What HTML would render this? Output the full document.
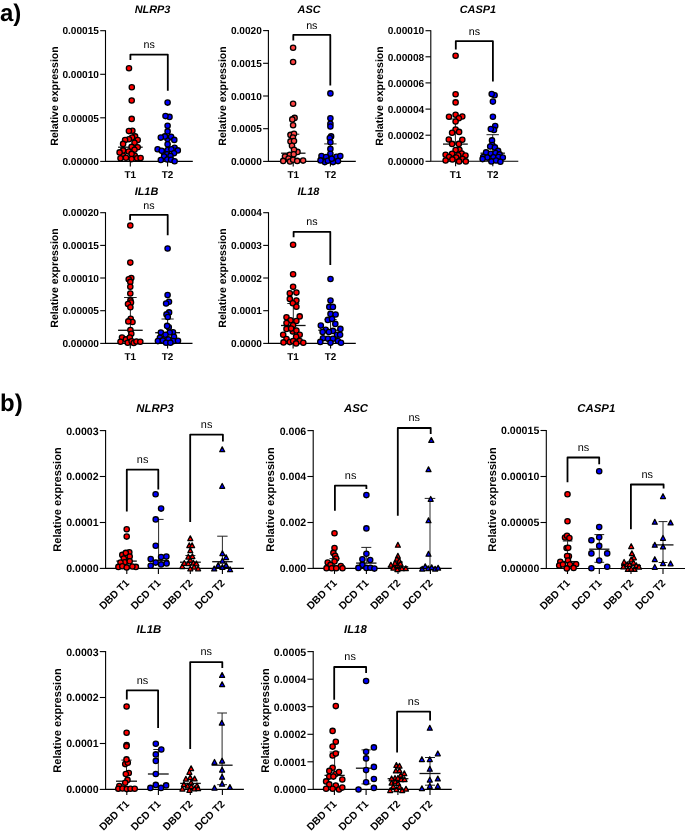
<!DOCTYPE html>
<html><head><meta charset="utf-8"><style>
html,body{margin:0;padding:0;background:#fff;width:685px;height:834px;overflow:hidden}
svg{display:block;will-change:transform}
text{font-family:"Liberation Sans",sans-serif;fill:#000;text-rendering:geometricPrecision}
.ax{stroke:#000;stroke-width:1.1;fill:none}
.br{stroke:#000;stroke-width:1.8;fill:none;stroke-linejoin:round}
.tka{font-size:10.1px;font-weight:bold;text-anchor:end}
.tkb{font-size:10.6px;font-weight:bold;text-anchor:end}
.yla{font-size:10.6px;font-weight:bold;text-anchor:middle}
.ylb{font-size:11.15px;font-weight:bold;text-anchor:middle}
.tia{font-size:10.9px;font-weight:bold;font-style:italic;text-anchor:middle}
.tib{font-size:11.4px;font-weight:bold;font-style:italic;text-anchor:middle}
.nsa{font-size:10.7px;text-anchor:middle}
.nsb{font-size:10.9px;text-anchor:middle}
.xl{font-size:9.9px;font-weight:bold;text-anchor:middle}
.xr{font-size:10.35px;font-weight:bold;text-anchor:end}
.big{font-size:24px;font-weight:bold}
.r{fill:#f00;stroke:#000;stroke-width:1.3}
.b{fill:#00f;stroke:#000;stroke-width:1.3}
.r2{fill:#f44;stroke:#000;stroke-width:1.3}
.ev{stroke:#111;stroke-width:0.9;fill:none}
.t{stroke-linejoin:round;stroke-width:1.25}
.ec{stroke:#222;stroke-width:1;fill:none}
.em{stroke:#111;stroke-width:1.3;fill:none}
</style></head><body>
<svg width="685" height="834" viewBox="0 0 685 834">
<text x="0" y="21" class="big">a)</text>
<text x="0" y="411" class="big">b)</text>
<path d="M105.5 30.2V161.4M104.95 161.4H192.8" class="ax"/>
<path d="M100.2 161.4H105.5" class="ax"/>
<text x="98.9" y="165.1" class="tka">0.00000</text>
<path d="M100.2 117.8H105.5" class="ax"/>
<text x="98.9" y="121.5" class="tka">0.00005</text>
<path d="M100.2 74.3H105.5" class="ax"/>
<text x="98.9" y="78.0" class="tka">0.00010</text>
<path d="M100.2 30.7H105.5" class="ax"/>
<text x="98.9" y="34.4" class="tka">0.00015</text>
<path d="M130.3 161.4V166.4" class="ax"/>
<path d="M167.6 161.4V166.4" class="ax"/>
<text transform="translate(58.0,96.0) rotate(-90)" class="yla">Relative expression</text>
<text x="152.5" y="13.1" class="tia">NLRP3</text>
<text x="130.3" y="177.6" class="xl">T1</text>
<text x="167.6" y="177.6" class="xl">T2</text>
<path d="M130.4 60.1V54.6H167.8V90.8" class="br"/>
<text x="149.1" y="48.2" class="nsa">ns</text>
<path d="M118.1 147.2H142.7" class="em"/>
<path d="M155.3 150H179.9" class="em"/>
<circle cx="129" cy="68.3" r="2.65" class="r"/>
<circle cx="131.8" cy="87.3" r="2.65" class="r"/>
<circle cx="131.7" cy="100.5" r="2.65" class="r"/>
<circle cx="131.7" cy="118.9" r="2.65" class="r"/>
<circle cx="132.4" cy="130.8" r="2.65" class="r"/>
<circle cx="128.9" cy="131.1" r="2.65" class="r"/>
<circle cx="135.1" cy="136.4" r="2.65" class="r"/>
<circle cx="132.1" cy="137.5" r="2.65" class="r"/>
<circle cx="128.9" cy="139.3" r="2.65" class="r"/>
<circle cx="125.1" cy="140.1" r="2.65" class="r"/>
<circle cx="137.7" cy="140.1" r="2.65" class="r"/>
<circle cx="134.5" cy="142.8" r="2.65" class="r"/>
<circle cx="123.1" cy="143.9" r="2.65" class="r"/>
<circle cx="131.6" cy="146.9" r="2.65" class="r"/>
<circle cx="137.7" cy="147.2" r="2.65" class="r"/>
<circle cx="123" cy="155.5" r="2.65" class="r"/>
<circle cx="134.8" cy="155.8" r="2.65" class="r"/>
<circle cx="123.1" cy="150.4" r="2.65" class="r"/>
<circle cx="134.5" cy="149.8" r="2.65" class="r"/>
<circle cx="128.6" cy="151.5" r="2.65" class="r"/>
<circle cx="119.6" cy="152.4" r="2.65" class="r"/>
<circle cx="131.6" cy="153.9" r="2.65" class="r"/>
<circle cx="120.5" cy="158.2" r="2.65" class="r"/>
<circle cx="126" cy="157.7" r="2.65" class="r"/>
<circle cx="131.6" cy="159.1" r="2.65" class="r"/>
<circle cx="137.1" cy="158.2" r="2.65" class="r"/>
<circle cx="140.6" cy="158" r="2.65" class="r"/>
<circle cx="167.6" cy="102.6" r="2.65" class="b"/>
<circle cx="169.5" cy="116.9" r="2.65" class="b"/>
<circle cx="165.5" cy="116.1" r="2.65" class="b"/>
<circle cx="167.6" cy="125.7" r="2.65" class="b"/>
<circle cx="167.6" cy="131.4" r="2.65" class="b"/>
<circle cx="167.6" cy="139" r="2.65" class="b"/>
<circle cx="164.9" cy="136.4" r="2.65" class="b"/>
<circle cx="171.1" cy="136.7" r="2.65" class="b"/>
<circle cx="160.8" cy="137.6" r="2.65" class="b"/>
<circle cx="174.3" cy="139.9" r="2.65" class="b"/>
<circle cx="167.6" cy="144.3" r="2.65" class="b"/>
<circle cx="163.8" cy="152.4" r="2.65" class="b"/>
<circle cx="174.6" cy="147.8" r="2.65" class="b"/>
<circle cx="157.6" cy="149.2" r="2.65" class="b"/>
<circle cx="161.7" cy="150.7" r="2.65" class="b"/>
<circle cx="167.6" cy="150.1" r="2.65" class="b"/>
<circle cx="171.4" cy="149.2" r="2.65" class="b"/>
<circle cx="177.8" cy="150.4" r="2.65" class="b"/>
<circle cx="174" cy="153.3" r="2.65" class="b"/>
<circle cx="167" cy="154.2" r="2.65" class="b"/>
<circle cx="164.1" cy="156.5" r="2.65" class="b"/>
<circle cx="170.5" cy="155.9" r="2.65" class="b"/>
<circle cx="160.8" cy="160" r="2.65" class="b"/>
<circle cx="167.3" cy="159.5" r="2.65" class="b"/>
<circle cx="171.1" cy="159.7" r="2.65" class="b"/>
<circle cx="174.6" cy="161.2" r="2.65" class="b"/>
<path d="M268.4 30.1V161.4M267.85 161.4H355.8" class="ax"/>
<path d="M263.1 161.4H268.4" class="ax"/>
<text x="261.8" y="165.1" class="tka">0.0000</text>
<path d="M263.1 128.7H268.4" class="ax"/>
<text x="261.8" y="132.4" class="tka">0.0005</text>
<path d="M263.1 96.0H268.4" class="ax"/>
<text x="261.8" y="99.7" class="tka">0.0010</text>
<path d="M263.1 63.3H268.4" class="ax"/>
<text x="261.8" y="67.0" class="tka">0.0015</text>
<path d="M263.1 30.6H268.4" class="ax"/>
<text x="261.8" y="34.3" class="tka">0.0020</text>
<path d="M293.2 161.4V166.4" class="ax"/>
<path d="M330.4 161.4V166.4" class="ax"/>
<text transform="translate(226.3,96.0) rotate(-90)" class="yla">Relative expression</text>
<text x="309.1" y="13.1" class="tia">ASC</text>
<text x="293.2" y="177.6" class="xl">T1</text>
<text x="330.4" y="177.6" class="xl">T2</text>
<path d="M293.3 40.5V34.9H330.3V85.6" class="br"/>
<text x="311.8" y="28.5" class="nsa">ns</text>
<path d="M293.3 134.2V153.2" class="ev"/>
<path d="M287.3 134.2H299.3" class="ec"/>
<path d="M281.1 153.2H305.5" class="em"/>
<path d="M330.4 143.9V158" class="ev"/>
<path d="M324.2 143.9H336.6" class="ec"/>
<path d="M318.2 158H342.6" class="em"/>
<circle cx="293.1" cy="47.7" r="2.65" class="r2"/>
<circle cx="293.1" cy="62" r="2.65" class="r2"/>
<circle cx="293.1" cy="103.8" r="2.65" class="r2"/>
<circle cx="294.6" cy="117.9" r="2.65" class="r2"/>
<circle cx="292.3" cy="119.4" r="2.65" class="r2"/>
<circle cx="293.1" cy="125.3" r="2.65" class="r2"/>
<circle cx="290.5" cy="134.9" r="2.65" class="r2"/>
<circle cx="294" cy="133.8" r="2.65" class="r2"/>
<circle cx="292.9" cy="137.6" r="2.65" class="r2"/>
<circle cx="290.5" cy="141.4" r="2.65" class="r2"/>
<circle cx="294" cy="141.1" r="2.65" class="r2"/>
<circle cx="292" cy="145.7" r="2.65" class="r2"/>
<circle cx="297.5" cy="151.9" r="2.65" class="r2"/>
<circle cx="294" cy="149.8" r="2.65" class="r2"/>
<circle cx="289.9" cy="154.8" r="2.65" class="r2"/>
<circle cx="293.7" cy="154.2" r="2.65" class="r2"/>
<circle cx="285" cy="156.5" r="2.65" class="r2"/>
<circle cx="288.5" cy="158.6" r="2.65" class="r2"/>
<circle cx="290" cy="161.5" r="2.65" class="r2"/>
<circle cx="283.2" cy="160.9" r="2.65" class="r2"/>
<circle cx="293.1" cy="159.7" r="2.65" class="r2"/>
<circle cx="297.2" cy="160.9" r="2.65" class="r2"/>
<circle cx="303.1" cy="160.6" r="2.65" class="r2"/>
<circle cx="330.4" cy="93.4" r="2.65" class="b"/>
<circle cx="330.4" cy="118.2" r="2.65" class="b"/>
<circle cx="330.4" cy="123.8" r="2.65" class="b"/>
<circle cx="330.4" cy="126.5" r="2.65" class="b"/>
<circle cx="331.1" cy="136.4" r="2.65" class="b"/>
<circle cx="329.8" cy="138" r="2.65" class="b"/>
<circle cx="330.4" cy="142.3" r="2.65" class="b"/>
<circle cx="330.4" cy="148.9" r="2.65" class="b"/>
<circle cx="330.4" cy="153.8" r="2.65" class="b"/>
<circle cx="321.5" cy="156.1" r="2.65" class="b"/>
<circle cx="326.1" cy="157.1" r="2.65" class="b"/>
<circle cx="336.4" cy="156.8" r="2.65" class="b"/>
<circle cx="340.3" cy="156.1" r="2.65" class="b"/>
<circle cx="324.8" cy="162.1" r="2.65" class="b"/>
<circle cx="327.8" cy="160.7" r="2.65" class="b"/>
<circle cx="333.1" cy="162.1" r="2.65" class="b"/>
<circle cx="320.5" cy="160.4" r="2.65" class="b"/>
<circle cx="331.7" cy="158.8" r="2.65" class="b"/>
<circle cx="338" cy="161.1" r="2.65" class="b"/>
<path d="M430.8 30.2V161.3M430.25 161.3H518.3" class="ax"/>
<path d="M425.5 161.3H430.8" class="ax"/>
<text x="424.2" y="165.0" class="tka">0.00000</text>
<path d="M425.5 135.2H430.8" class="ax"/>
<text x="424.2" y="138.9" class="tka">0.00002</text>
<path d="M425.5 109.1H430.8" class="ax"/>
<text x="424.2" y="112.8" class="tka">0.00004</text>
<path d="M425.5 82.9H430.8" class="ax"/>
<text x="424.2" y="86.6" class="tka">0.00006</text>
<path d="M425.5 56.8H430.8" class="ax"/>
<text x="424.2" y="60.5" class="tka">0.00008</text>
<path d="M425.5 30.7H430.8" class="ax"/>
<text x="424.2" y="34.4" class="tka">0.00010</text>
<path d="M455.6 161.3V166.3" class="ax"/>
<path d="M492.8 161.3V166.3" class="ax"/>
<text transform="translate(383.3,96.0) rotate(-90)" class="yla">Relative expression</text>
<text x="477.9" y="13.1" class="tia">CASP1</text>
<text x="455.6" y="177.5" class="xl">T1</text>
<text x="492.8" y="177.5" class="xl">T2</text>
<path d="M455.8 49.6V41.2H492.9V81.4" class="br"/>
<text x="474.4" y="34.8" class="nsa">ns</text>
<path d="M455.4 119.0V144.1" class="ev"/>
<path d="M449.4 119.0H461.4" class="ec"/>
<path d="M443.0 144.1H467.8" class="em"/>
<path d="M492.7 134.7V153.2" class="ev"/>
<path d="M486.5 134.7H498.9" class="ec"/>
<path d="M480.5 153.2H504.9" class="em"/>
<circle cx="455.6" cy="55.8" r="2.65" class="r"/>
<circle cx="455.6" cy="94.3" r="2.65" class="r"/>
<circle cx="455.6" cy="102.4" r="2.65" class="r"/>
<circle cx="449" cy="116.8" r="2.65" class="r"/>
<circle cx="455.6" cy="114.8" r="2.65" class="r"/>
<circle cx="462.3" cy="116.5" r="2.65" class="r"/>
<circle cx="458.8" cy="118.3" r="2.65" class="r"/>
<circle cx="455.6" cy="121.5" r="2.65" class="r"/>
<circle cx="455.6" cy="129.6" r="2.65" class="r"/>
<circle cx="459.1" cy="131.9" r="2.65" class="r"/>
<circle cx="452.1" cy="132.8" r="2.65" class="r"/>
<circle cx="448.8" cy="139.5" r="2.65" class="r"/>
<circle cx="462.3" cy="139.8" r="2.65" class="r"/>
<circle cx="452.1" cy="143.9" r="2.65" class="r"/>
<circle cx="458.8" cy="143.9" r="2.65" class="r"/>
<circle cx="459.4" cy="149.7" r="2.65" class="r"/>
<circle cx="455.6" cy="150" r="2.65" class="r"/>
<circle cx="445.6" cy="154.7" r="2.65" class="r"/>
<circle cx="452.1" cy="153.8" r="2.65" class="r"/>
<circle cx="461.7" cy="153.5" r="2.65" class="r"/>
<circle cx="465.5" cy="155.6" r="2.65" class="r"/>
<circle cx="458.2" cy="155.3" r="2.65" class="r"/>
<circle cx="449.1" cy="157" r="2.65" class="r"/>
<circle cx="456.1" cy="157.6" r="2.65" class="r"/>
<circle cx="462.6" cy="159.1" r="2.65" class="r"/>
<circle cx="445.6" cy="160.5" r="2.65" class="r"/>
<circle cx="452.4" cy="159.4" r="2.65" class="r"/>
<circle cx="459.1" cy="161.4" r="2.65" class="r"/>
<circle cx="465.8" cy="161.4" r="2.65" class="r"/>
<circle cx="494.6" cy="95.2" r="2.65" class="b"/>
<circle cx="491.7" cy="94.1" r="2.65" class="b"/>
<circle cx="492.9" cy="101.6" r="2.65" class="b"/>
<circle cx="492.9" cy="116.8" r="2.65" class="b"/>
<circle cx="495.2" cy="126.1" r="2.65" class="b"/>
<circle cx="494" cy="129.9" r="2.65" class="b"/>
<circle cx="490.8" cy="129" r="2.65" class="b"/>
<circle cx="492" cy="140.4" r="2.65" class="b"/>
<circle cx="492.3" cy="145.1" r="2.65" class="b"/>
<circle cx="490.2" cy="146.5" r="2.65" class="b"/>
<circle cx="494.9" cy="147.4" r="2.65" class="b"/>
<circle cx="498.1" cy="150.9" r="2.65" class="b"/>
<circle cx="486.1" cy="152.4" r="2.65" class="b"/>
<circle cx="490.8" cy="153.8" r="2.65" class="b"/>
<circle cx="495.5" cy="153" r="2.65" class="b"/>
<circle cx="499.6" cy="154.4" r="2.65" class="b"/>
<circle cx="483.2" cy="157" r="2.65" class="b"/>
<circle cx="487.3" cy="157.6" r="2.65" class="b"/>
<circle cx="493.4" cy="157.3" r="2.65" class="b"/>
<circle cx="498.4" cy="157" r="2.65" class="b"/>
<circle cx="502.8" cy="157.6" r="2.65" class="b"/>
<circle cx="482.6" cy="159.1" r="2.65" class="b"/>
<circle cx="491.4" cy="161.4" r="2.65" class="b"/>
<circle cx="496.1" cy="160.5" r="2.65" class="b"/>
<circle cx="500.4" cy="161.7" r="2.65" class="b"/>
<path d="M105.5 212.2V343.4M104.95 343.4H192.5" class="ax"/>
<path d="M100.2 343.4H105.5" class="ax"/>
<text x="98.9" y="347.1" class="tka">0.00000</text>
<path d="M100.2 310.7H105.5" class="ax"/>
<text x="98.9" y="314.4" class="tka">0.00005</text>
<path d="M100.2 278.0H105.5" class="ax"/>
<text x="98.9" y="281.7" class="tka">0.00010</text>
<path d="M100.2 245.4H105.5" class="ax"/>
<text x="98.9" y="249.1" class="tka">0.00015</text>
<path d="M100.2 212.7H105.5" class="ax"/>
<text x="98.9" y="216.4" class="tka">0.00020</text>
<path d="M130.3 343.4V348.4" class="ax"/>
<path d="M167.6 343.4V348.4" class="ax"/>
<text transform="translate(58.0,278.0) rotate(-90)" class="yla">Relative expression</text>
<text x="146.5" y="194.9" class="tia">IL1B</text>
<text x="130.3" y="359.6" class="xl">T1</text>
<text x="167.6" y="359.6" class="xl">T2</text>
<path d="M130.1 220.3V214.9H167.7V235.2" class="br"/>
<text x="148.9" y="208.5" class="nsa">ns</text>
<path d="M130.4 297.5V330.3" class="ev"/>
<path d="M124.1 297.5H136.7" class="ec"/>
<path d="M118.1 330.3H142.7" class="em"/>
<path d="M167.6 319V332.7" class="ev"/>
<path d="M161.5 319H173.7" class="ec"/>
<path d="M155.2 332.7H180.0" class="em"/>
<circle cx="130.3" cy="225.5" r="2.65" class="r"/>
<circle cx="130.3" cy="262.6" r="2.65" class="r"/>
<circle cx="131.3" cy="278.1" r="2.65" class="r"/>
<circle cx="128.7" cy="279.2" r="2.65" class="r"/>
<circle cx="130.3" cy="281.9" r="2.65" class="r"/>
<circle cx="130.3" cy="286.8" r="2.65" class="r"/>
<circle cx="130.3" cy="293.5" r="2.65" class="r"/>
<circle cx="130.4" cy="300.4" r="2.65" class="r"/>
<circle cx="131" cy="302.5" r="2.65" class="r"/>
<circle cx="128" cy="304" r="2.65" class="r"/>
<circle cx="130.4" cy="307.3" r="2.65" class="r"/>
<circle cx="130.7" cy="318.7" r="2.65" class="r"/>
<circle cx="132.5" cy="322" r="2.65" class="r"/>
<circle cx="128.3" cy="321.4" r="2.65" class="r"/>
<circle cx="130.4" cy="330.1" r="2.65" class="r"/>
<circle cx="131.3" cy="333.7" r="2.65" class="r"/>
<circle cx="122" cy="337.6" r="2.65" class="r"/>
<circle cx="125.9" cy="339.4" r="2.65" class="r"/>
<circle cx="129.8" cy="337.6" r="2.65" class="r"/>
<circle cx="120.5" cy="341.8" r="2.65" class="r"/>
<circle cx="127.7" cy="342.7" r="2.65" class="r"/>
<circle cx="131.6" cy="341.2" r="2.65" class="r"/>
<circle cx="133.7" cy="343" r="2.65" class="r"/>
<circle cx="136.4" cy="341.5" r="2.65" class="r"/>
<circle cx="140.3" cy="341.8" r="2.65" class="r"/>
<circle cx="167.6" cy="248.5" r="2.65" class="b"/>
<circle cx="167.6" cy="295.1" r="2.65" class="b"/>
<circle cx="169" cy="301.7" r="2.65" class="b"/>
<circle cx="166.1" cy="303.5" r="2.65" class="b"/>
<circle cx="169.1" cy="312.4" r="2.65" class="b"/>
<circle cx="166.5" cy="314.4" r="2.65" class="b"/>
<circle cx="167.8" cy="317" r="2.65" class="b"/>
<circle cx="168.8" cy="327.2" r="2.65" class="b"/>
<circle cx="167.1" cy="325.9" r="2.65" class="b"/>
<circle cx="173" cy="332.2" r="2.65" class="b"/>
<circle cx="160.9" cy="332.5" r="2.65" class="b"/>
<circle cx="169.7" cy="332.5" r="2.65" class="b"/>
<circle cx="165.5" cy="334.8" r="2.65" class="b"/>
<circle cx="174" cy="336.8" r="2.65" class="b"/>
<circle cx="159.9" cy="337.8" r="2.65" class="b"/>
<circle cx="168.4" cy="339.4" r="2.65" class="b"/>
<circle cx="157.9" cy="341.1" r="2.65" class="b"/>
<circle cx="162.8" cy="340.4" r="2.65" class="b"/>
<circle cx="173.4" cy="341.1" r="2.65" class="b"/>
<circle cx="178" cy="340.7" r="2.65" class="b"/>
<circle cx="166.1" cy="342.7" r="2.65" class="b"/>
<circle cx="170.4" cy="342.7" r="2.65" class="b"/>
<path d="M268.5 212.2V343.4M267.95 343.4H355.8" class="ax"/>
<path d="M263.2 343.4H268.5" class="ax"/>
<text x="261.9" y="347.1" class="tka">0.0000</text>
<path d="M263.2 310.7H268.5" class="ax"/>
<text x="261.9" y="314.4" class="tka">0.0001</text>
<path d="M263.2 278.0H268.5" class="ax"/>
<text x="261.9" y="281.7" class="tka">0.0002</text>
<path d="M263.2 245.4H268.5" class="ax"/>
<text x="261.9" y="249.1" class="tka">0.0003</text>
<path d="M263.2 212.7H268.5" class="ax"/>
<text x="261.9" y="216.4" class="tka">0.0004</text>
<path d="M293.1 343.4V348.4" class="ax"/>
<path d="M330.6 343.4V348.4" class="ax"/>
<text transform="translate(226.4,278.0) rotate(-90)" class="yla">Relative expression</text>
<text x="308.4" y="194.9" class="tia">IL18</text>
<text x="293.1" y="359.6" class="xl">T1</text>
<text x="330.6" y="359.6" class="xl">T2</text>
<path d="M293.6 237.3V231.8H330.3V265.0" class="br"/>
<text x="312.0" y="225.4" class="nsa">ns</text>
<path d="M293.3 303.5V325.5" class="ev"/>
<path d="M287.3 303.5H299.3" class="ec"/>
<path d="M281.0 325.5H305.6" class="em"/>
<path d="M330.6 319.5V330.2" class="ev"/>
<path d="M324.6 319.5H336.6" class="ec"/>
<path d="M318.3 330.2H342.9" class="em"/>
<circle cx="293.1" cy="244.7" r="2.65" class="r"/>
<circle cx="293.1" cy="274.2" r="2.65" class="r"/>
<circle cx="293.1" cy="286.8" r="2.65" class="r"/>
<circle cx="296.4" cy="292.6" r="2.65" class="r"/>
<circle cx="289.8" cy="293.3" r="2.65" class="r"/>
<circle cx="289.8" cy="298.9" r="2.65" class="r"/>
<circle cx="296.4" cy="300.5" r="2.65" class="r"/>
<circle cx="292.8" cy="303.2" r="2.65" class="r"/>
<circle cx="296.4" cy="306.8" r="2.65" class="r"/>
<circle cx="299.7" cy="316.4" r="2.65" class="r"/>
<circle cx="286.5" cy="317.3" r="2.65" class="r"/>
<circle cx="290.5" cy="320.3" r="2.65" class="r"/>
<circle cx="296.4" cy="321" r="2.65" class="r"/>
<circle cx="286.5" cy="323" r="2.65" class="r"/>
<circle cx="293.1" cy="325.3" r="2.65" class="r"/>
<circle cx="292.8" cy="331.5" r="2.65" class="r"/>
<circle cx="286.5" cy="328.9" r="2.65" class="r"/>
<circle cx="291.1" cy="328.6" r="2.65" class="r"/>
<circle cx="296.4" cy="330.5" r="2.65" class="r"/>
<circle cx="283.2" cy="334.8" r="2.65" class="r"/>
<circle cx="299.7" cy="334.8" r="2.65" class="r"/>
<circle cx="296.1" cy="336.8" r="2.65" class="r"/>
<circle cx="286.5" cy="339.1" r="2.65" class="r"/>
<circle cx="289.8" cy="342.1" r="2.65" class="r"/>
<circle cx="293.1" cy="341.1" r="2.65" class="r"/>
<circle cx="299.7" cy="341.1" r="2.65" class="r"/>
<circle cx="283.5" cy="342.4" r="2.65" class="r"/>
<circle cx="303.3" cy="342.7" r="2.65" class="r"/>
<circle cx="296.1" cy="343.4" r="2.65" class="r"/>
<circle cx="330.5" cy="279" r="2.65" class="b"/>
<circle cx="330.5" cy="300.6" r="2.65" class="b"/>
<circle cx="329.3" cy="306.9" r="2.65" class="b"/>
<circle cx="332.9" cy="306.9" r="2.65" class="b"/>
<circle cx="330.5" cy="313.9" r="2.65" class="b"/>
<circle cx="335.6" cy="314.5" r="2.65" class="b"/>
<circle cx="327.8" cy="319.9" r="2.65" class="b"/>
<circle cx="332" cy="319" r="2.65" class="b"/>
<circle cx="320.8" cy="325.6" r="2.65" class="b"/>
<circle cx="335.3" cy="323.9" r="2.65" class="b"/>
<circle cx="340.4" cy="328.9" r="2.65" class="b"/>
<circle cx="325.7" cy="329.8" r="2.65" class="b"/>
<circle cx="332.9" cy="330.9" r="2.65" class="b"/>
<circle cx="322.6" cy="332" r="2.65" class="b"/>
<circle cx="328.9" cy="332" r="2.65" class="b"/>
<circle cx="337" cy="334.7" r="2.65" class="b"/>
<circle cx="340.1" cy="334.7" r="2.65" class="b"/>
<circle cx="323" cy="338.3" r="2.65" class="b"/>
<circle cx="328" cy="338.8" r="2.65" class="b"/>
<circle cx="332.9" cy="338.8" r="2.65" class="b"/>
<circle cx="337.9" cy="341" r="2.65" class="b"/>
<circle cx="320.3" cy="341.9" r="2.65" class="b"/>
<circle cx="330.5" cy="342.8" r="2.65" class="b"/>
<circle cx="341" cy="342.8" r="2.65" class="b"/>
<path d="M105.6 430.1V568.4M105.05 568.4H243.9" class="ax"/>
<path d="M99.8 568.4H105.6" class="ax"/>
<text x="98.6" y="572.3" class="tkb">0.0000</text>
<path d="M99.8 522.5H105.6" class="ax"/>
<text x="98.6" y="526.4" class="tkb">0.0001</text>
<path d="M99.8 476.5H105.6" class="ax"/>
<text x="98.6" y="480.4" class="tkb">0.0002</text>
<path d="M99.8 430.6H105.6" class="ax"/>
<text x="98.6" y="434.5" class="tkb">0.0003</text>
<path d="M126.8 568.4V573.9" class="ax"/>
<path d="M158.4 568.4V573.9" class="ax"/>
<path d="M190.3 568.4V573.9" class="ax"/>
<path d="M222.4 568.4V573.9" class="ax"/>
<text transform="translate(61.0,499.5) rotate(-90)" class="ylb">Relative expression</text>
<text x="155.0" y="411.7" class="tib">NLRP3</text>
<text transform="translate(129.8,583.7) rotate(-45)" class="xr">DBD T1</text>
<text transform="translate(161.4,583.7) rotate(-45)" class="xr">DCD T1</text>
<text transform="translate(193.3,583.7) rotate(-45)" class="xr">DBD T2</text>
<text transform="translate(225.4,583.7) rotate(-45)" class="xr">DCD T2</text>
<path d="M126.8 511.4V469.7H158.3V489.6" class="br"/>
<text x="142.6" y="462.9" class="nsb">ns</text>
<path d="M190.2 521.9V434.6H222.9V441.6" class="br"/>
<text x="206.6" y="427.8" class="nsb">ns</text>
<path d="M116.4 561.1H136.8" class="em"/>
<path d="M158.6 519.4V560.5" class="ev"/>
<path d="M153.6 519.4H163.6" class="ec"/>
<path d="M148.4 560.5H168.8" class="em"/>
<path d="M190.4 555.5V562.2" class="ev"/>
<path d="M185.4 555.5H195.4" class="ec"/>
<path d="M180.0 562.2H200.8" class="em"/>
<path d="M222.4 536.2V561.7" class="ev"/>
<path d="M217.2 536.2H227.6" class="ec"/>
<path d="M212.2 561.7H232.6" class="em"/>
<circle cx="126.7" cy="529.3" r="2.65" class="r"/>
<circle cx="126.7" cy="536.6" r="2.65" class="r"/>
<circle cx="129.3" cy="552.3" r="2.65" class="r"/>
<circle cx="122.3" cy="554.9" r="2.65" class="r"/>
<circle cx="125.8" cy="552.9" r="2.65" class="r"/>
<circle cx="129.7" cy="556.6" r="2.65" class="r"/>
<circle cx="123.8" cy="558.6" r="2.65" class="r"/>
<circle cx="124.7" cy="562.3" r="2.65" class="r"/>
<circle cx="129.7" cy="561.2" r="2.65" class="r"/>
<circle cx="120.5" cy="562.6" r="2.65" class="r"/>
<circle cx="135.9" cy="566.9" r="2.65" class="r"/>
<circle cx="132.4" cy="566.5" r="2.65" class="r"/>
<circle cx="118.4" cy="566.9" r="2.65" class="r"/>
<circle cx="122.3" cy="566.3" r="2.65" class="r"/>
<circle cx="126.7" cy="567.4" r="2.65" class="r"/>
<circle cx="155.6" cy="494.2" r="2.65" class="b"/>
<circle cx="161.1" cy="508.6" r="2.65" class="b"/>
<circle cx="155.7" cy="519.4" r="2.65" class="b"/>
<circle cx="155.7" cy="545.7" r="2.65" class="b"/>
<circle cx="150.7" cy="559.1" r="2.65" class="b"/>
<circle cx="161.1" cy="557.1" r="2.65" class="b"/>
<circle cx="166.4" cy="556.6" r="2.65" class="b"/>
<circle cx="155.7" cy="562.6" r="2.65" class="b"/>
<circle cx="161.1" cy="564.4" r="2.65" class="b"/>
<circle cx="166.6" cy="563.4" r="2.65" class="b"/>
<circle cx="150.7" cy="565.8" r="2.65" class="b"/>
<path d="M190.3 535.8L192.8 540.6H187.8Z" class="r t"/>
<path d="M189.3 542.8L191.8 547.6H186.8Z" class="r t"/>
<path d="M192.1 542.8L194.6 547.6H189.6Z" class="r t"/>
<path d="M190.3 547.9L192.8 552.7H187.8Z" class="r t"/>
<path d="M190.3 557.2L192.8 562.0H187.8Z" class="r t"/>
<path d="M188.3 554.2L190.8 559.0H185.8Z" class="r t"/>
<path d="M192.4 553.7L194.9 558.5H189.9Z" class="r t"/>
<path d="M182.3 563.7L184.8 568.5H179.8Z" class="r t"/>
<path d="M184.3 560.5L186.8 565.3H181.8Z" class="r t"/>
<path d="M188.3 560.7L190.8 565.5H185.8Z" class="r t"/>
<path d="M193.4 560.2L195.9 565.0H190.9Z" class="r t"/>
<path d="M196.4 561.0L198.9 565.8H193.9Z" class="r t"/>
<path d="M194.1 564.2L196.6 569.0H191.6Z" class="r t"/>
<path d="M190.3 566.0L192.8 570.8H187.8Z" class="r t"/>
<path d="M198.1 566.0L200.6 570.8H195.6Z" class="r t"/>
<path d="M222.2 446.9L224.7 451.7H219.7Z" class="b t"/>
<path d="M222.2 483.5L224.7 488.3H219.7Z" class="b t"/>
<path d="M222.4 550.7L224.9 555.5H219.9Z" class="b t"/>
<path d="M226.1 554.7L228.6 559.5H223.6Z" class="b t"/>
<path d="M222.4 558.2L224.9 563.0H219.9Z" class="b t"/>
<path d="M218.2 562.6L220.7 567.4H215.7Z" class="b t"/>
<path d="M226.1 562.6L228.6 567.4H223.6Z" class="b t"/>
<path d="M214.2 566.1L216.7 570.9H211.7Z" class="b t"/>
<path d="M222.4 564.6L224.9 569.4H219.9Z" class="b t"/>
<path d="M230.1 566.9L232.6 571.7H227.6Z" class="b t"/>
<path d="M313.2 430.1V568.4M312.65 568.4H451.7" class="ax"/>
<path d="M307.4 568.4H313.2" class="ax"/>
<text x="306.2" y="572.3" class="tkb">0.000</text>
<path d="M307.4 522.5H313.2" class="ax"/>
<text x="306.2" y="526.4" class="tkb">0.002</text>
<path d="M307.4 476.5H313.2" class="ax"/>
<text x="306.2" y="480.4" class="tkb">0.004</text>
<path d="M307.4 430.6H313.2" class="ax"/>
<text x="306.2" y="434.5" class="tkb">0.006</text>
<path d="M334.5 568.4V573.9" class="ax"/>
<path d="M366.4 568.4V573.9" class="ax"/>
<path d="M398.0 568.4V573.9" class="ax"/>
<path d="M430.4 568.4V573.9" class="ax"/>
<text transform="translate(274.1,499.5) rotate(-90)" class="ylb">Relative expression</text>
<text x="356.0" y="411.7" class="tib">ASC</text>
<text transform="translate(337.5,583.7) rotate(-45)" class="xr">DBD T1</text>
<text transform="translate(369.4,583.7) rotate(-45)" class="xr">DCD T1</text>
<text transform="translate(401.0,583.7) rotate(-45)" class="xr">DBD T2</text>
<text transform="translate(433.4,583.7) rotate(-45)" class="xr">DCD T2</text>
<path d="M334.9 510.8V485.7H366.4V489.1" class="br"/>
<text x="350.6" y="478.9" class="nsb">ns</text>
<path d="M397.8 515.7V428.0H430.7V434.0" class="br"/>
<text x="414.2" y="421.2" class="nsb">ns</text>
<path d="M334.5 558.6V566" class="ev"/>
<path d="M329.5 558.6H339.5" class="ec"/>
<path d="M324.3 566H344.7" class="em"/>
<path d="M366.3 547.4V563.1" class="ev"/>
<path d="M361.3 547.4H371.3" class="ec"/>
<path d="M356.1 563.1H376.5" class="em"/>
<path d="M398 562V566.8" class="ev"/>
<path d="M393.0 562H403.0" class="ec"/>
<path d="M387.8 566.8H408.2" class="em"/>
<path d="M430 498.4V567.5" class="ev"/>
<path d="M424.7 498.4H435.3" class="ec"/>
<path d="M419.8 567.5H440.2" class="em"/>
<circle cx="334.5" cy="533.3" r="2.65" class="r"/>
<circle cx="334.5" cy="548.1" r="2.65" class="r"/>
<circle cx="333.4" cy="552.9" r="2.65" class="r"/>
<circle cx="335.1" cy="555.7" r="2.65" class="r"/>
<circle cx="336.2" cy="558.6" r="2.65" class="r"/>
<circle cx="334.5" cy="561.4" r="2.65" class="r"/>
<circle cx="327.7" cy="562.6" r="2.65" class="r"/>
<circle cx="330.5" cy="564.9" r="2.65" class="r"/>
<circle cx="340.8" cy="566" r="2.65" class="r"/>
<circle cx="326.5" cy="568.3" r="2.65" class="r"/>
<circle cx="331.7" cy="568.3" r="2.65" class="r"/>
<circle cx="336.2" cy="568.3" r="2.65" class="r"/>
<circle cx="342.5" cy="568.3" r="2.65" class="r"/>
<circle cx="366.4" cy="495.1" r="2.65" class="b"/>
<circle cx="366.4" cy="528.4" r="2.65" class="b"/>
<circle cx="366.4" cy="553.8" r="2.65" class="b"/>
<circle cx="362.4" cy="559.2" r="2.65" class="b"/>
<circle cx="370.2" cy="560" r="2.65" class="b"/>
<circle cx="362.4" cy="564.9" r="2.65" class="b"/>
<circle cx="358.4" cy="567.9" r="2.65" class="b"/>
<circle cx="366.4" cy="567.9" r="2.65" class="b"/>
<circle cx="370.4" cy="567.7" r="2.65" class="b"/>
<circle cx="374.4" cy="568.6" r="2.65" class="b"/>
<path d="M397.9 542.4L400.4 547.2H395.4Z" class="r t"/>
<path d="M397.9 553.4L400.4 558.2H395.4Z" class="r t"/>
<path d="M396.9 556.3L399.4 561.1H394.4Z" class="r t"/>
<path d="M399.4 558.3L401.9 563.1H396.9Z" class="r t"/>
<path d="M397.6 562.7L400.1 567.5H395.1Z" class="r t"/>
<path d="M400.5 561.0L403.0 565.8H398.0Z" class="r t"/>
<path d="M395 560.5L397.5 565.3H392.5Z" class="r t"/>
<path d="M390.9 562.3L393.4 567.1H388.4Z" class="r t"/>
<path d="M393.4 565.3L395.9 570.1H390.9Z" class="r t"/>
<path d="M397.4 566.8L399.9 571.6H394.9Z" class="r t"/>
<path d="M401.9 565.8L404.4 570.6H399.4Z" class="r t"/>
<path d="M405.8 565.8L408.3 570.6H403.3Z" class="r t"/>
<path d="M431.3 437.6L433.8 442.4H428.8Z" class="b t"/>
<path d="M428.5 466.8L431.0 471.6H426.0Z" class="b t"/>
<path d="M430.7 496.5L433.2 501.3H428.2Z" class="b t"/>
<path d="M428.5 517.9L431.0 522.7H426.0Z" class="b t"/>
<path d="M428.5 551.4L431.0 556.2H426.0Z" class="b t"/>
<path d="M422.2 566.3L424.7 571.1H419.7Z" class="b t"/>
<path d="M425.2 563.8L427.7 568.6H422.7Z" class="b t"/>
<path d="M428.2 565.8L430.7 570.6H425.7Z" class="b t"/>
<path d="M431.7 564.8L434.2 569.6H429.2Z" class="b t"/>
<path d="M435.1 566.3L437.6 571.1H432.6Z" class="b t"/>
<path d="M438.1 565.3L440.6 570.1H435.6Z" class="b t"/>
<path d="M546.3 430.0V568.5M545.75 568.5H686" class="ax"/>
<path d="M540.5 568.5H546.3" class="ax"/>
<text x="539.3" y="572.4" class="tkb">0.00000</text>
<path d="M540.5 522.5H546.3" class="ax"/>
<text x="539.3" y="526.4" class="tkb">0.00005</text>
<path d="M540.5 476.5H546.3" class="ax"/>
<text x="539.3" y="480.4" class="tkb">0.00010</text>
<path d="M540.5 430.5H546.3" class="ax"/>
<text x="539.3" y="434.4" class="tkb">0.00015</text>
<path d="M567.5 568.5V574.0" class="ax"/>
<path d="M599.3 568.5V574.0" class="ax"/>
<path d="M631.0 568.5V574.0" class="ax"/>
<path d="M663.0 568.5V574.0" class="ax"/>
<text transform="translate(496.0,499.5) rotate(-90)" class="ylb">Relative expression</text>
<text x="596.3" y="411.7" class="tib">CASP1</text>
<text transform="translate(570.5,583.8) rotate(-45)" class="xr">DBD T1</text>
<text transform="translate(602.3,583.8) rotate(-45)" class="xr">DCD T1</text>
<text transform="translate(634.0,583.8) rotate(-45)" class="xr">DBD T2</text>
<text transform="translate(666.0,583.8) rotate(-45)" class="xr">DCD T2</text>
<path d="M567.5 482.2V457.5H599.2V464.2" class="br"/>
<text x="583.4" y="450.7" class="nsb">ns</text>
<path d="M630.9 529.2V484.5H663.6V488.6" class="br"/>
<text x="647.2" y="477.7" class="nsb">ns</text>
<path d="M567.6 541.0V561.6" class="ev"/>
<path d="M562.8 541.0H572.4" class="ec"/>
<path d="M557.6 561.6H577.6" class="em"/>
<path d="M599.3 534.6V562.3" class="ev"/>
<path d="M594.4 534.6H604.2" class="ec"/>
<path d="M594.4 562.3H604.2" class="ec"/>
<path d="M589.2 549.2H609.4" class="em"/>
<path d="M621.0 565.5H641.0" class="em"/>
<path d="M663 521.6V562.5" class="ev"/>
<path d="M658.6 521.6H667.4" class="ec"/>
<path d="M658.6 562.5H667.4" class="ec"/>
<path d="M652.5 544.9H673.5" class="em"/>
<circle cx="567.5" cy="494.2" r="2.65" class="r"/>
<circle cx="567.5" cy="521.2" r="2.65" class="r"/>
<circle cx="565" cy="537.5" r="2.65" class="r"/>
<circle cx="567" cy="535.8" r="2.65" class="r"/>
<circle cx="569.4" cy="538" r="2.65" class="r"/>
<circle cx="566.6" cy="548" r="2.65" class="r"/>
<circle cx="568.2" cy="547.8" r="2.65" class="r"/>
<circle cx="568.9" cy="556.2" r="2.65" class="r"/>
<circle cx="567.1" cy="556" r="2.65" class="r"/>
<circle cx="568" cy="560.5" r="2.65" class="r"/>
<circle cx="560.3" cy="561.7" r="2.65" class="r"/>
<circle cx="569.9" cy="564.5" r="2.65" class="r"/>
<circle cx="559.2" cy="565.6" r="2.65" class="r"/>
<circle cx="562.9" cy="564.5" r="2.65" class="r"/>
<circle cx="576.1" cy="564.2" r="2.65" class="r"/>
<circle cx="573.6" cy="567.9" r="2.65" class="r"/>
<circle cx="566.8" cy="568.4" r="2.65" class="r"/>
<circle cx="599.2" cy="471.3" r="2.65" class="b"/>
<circle cx="599.2" cy="527.1" r="2.65" class="b"/>
<circle cx="599.2" cy="537.2" r="2.65" class="b"/>
<circle cx="591.4" cy="540.3" r="2.65" class="b"/>
<circle cx="599.2" cy="545.9" r="2.65" class="b"/>
<circle cx="591.4" cy="553.4" r="2.65" class="b"/>
<circle cx="607.2" cy="553.4" r="2.65" class="b"/>
<circle cx="599.2" cy="560.5" r="2.65" class="b"/>
<circle cx="591.4" cy="568.3" r="2.65" class="b"/>
<circle cx="607.2" cy="566.8" r="2.65" class="b"/>
<path d="M631.2 543.7L633.7 548.5H628.7Z" class="r t"/>
<path d="M631.9 550.8L634.4 555.6H629.4Z" class="r t"/>
<path d="M633.9 555.0L636.4 559.8H631.4Z" class="r t"/>
<path d="M631.2 557.0L633.7 561.8H628.7Z" class="r t"/>
<path d="M624.1 559.5L626.6 564.3H621.6Z" class="r t"/>
<path d="M627.2 561.7L629.7 566.5H624.7Z" class="r t"/>
<path d="M629.6 561.7L632.1 566.5H627.1Z" class="r t"/>
<path d="M633.5 560.0L636.0 564.8H631.0Z" class="r t"/>
<path d="M623.4 564.1L625.9 568.9H620.9Z" class="r t"/>
<path d="M636.3 562.8L638.8 567.6H633.8Z" class="r t"/>
<path d="M639 564.3L641.5 569.1H636.5Z" class="r t"/>
<path d="M627.9 566.6L630.4 571.4H625.4Z" class="r t"/>
<path d="M634.5 566.6L637.0 571.4H632.0Z" class="r t"/>
<path d="M631.2 566.3L633.7 571.1H628.7Z" class="r t"/>
<path d="M663 493.7L665.5 498.5H660.5Z" class="b t"/>
<path d="M654.8 519.4L657.3 524.2H652.3Z" class="b t"/>
<path d="M670.6 520.1L673.1 524.9H668.1Z" class="b t"/>
<path d="M663 535.5L665.5 540.3H660.5Z" class="b t"/>
<path d="M654.8 542.4L657.3 547.2H652.3Z" class="b t"/>
<path d="M663 544.1L665.5 548.9H660.5Z" class="b t"/>
<path d="M654.8 556.7L657.3 561.5H652.3Z" class="b t"/>
<path d="M663 560.7L665.5 565.5H660.5Z" class="b t"/>
<path d="M670.6 561.0L673.1 565.8H668.1Z" class="b t"/>
<path d="M654.8 564.5L657.3 569.3H652.3Z" class="b t"/>
<path d="M105.6 651.1V789.4M105.05 789.4H243.9" class="ax"/>
<path d="M99.8 789.4H105.6" class="ax"/>
<text x="98.6" y="793.3" class="tkb">0.0000</text>
<path d="M99.8 743.5H105.6" class="ax"/>
<text x="98.6" y="747.4" class="tkb">0.0001</text>
<path d="M99.8 697.5H105.6" class="ax"/>
<text x="98.6" y="701.4" class="tkb">0.0002</text>
<path d="M99.8 651.6H105.6" class="ax"/>
<text x="98.6" y="655.5" class="tkb">0.0003</text>
<path d="M126.8 789.4V794.9" class="ax"/>
<path d="M158.4 789.4V794.9" class="ax"/>
<path d="M190.3 789.4V794.9" class="ax"/>
<path d="M222.4 789.4V794.9" class="ax"/>
<text transform="translate(61.0,720.5) rotate(-90)" class="ylb">Relative expression</text>
<text x="148.9" y="632.6" class="tib">IL1B</text>
<text transform="translate(129.8,804.7) rotate(-45)" class="xr">DBD T1</text>
<text transform="translate(161.4,804.7) rotate(-45)" class="xr">DCD T1</text>
<text transform="translate(193.3,804.7) rotate(-45)" class="xr">DBD T2</text>
<text transform="translate(225.4,804.7) rotate(-45)" class="xr">DCD T2</text>
<path d="M126.8 699.6V690.4H158.1V728.1" class="br"/>
<text x="142.4" y="683.6" class="nsb">ns</text>
<path d="M190.2 749.1V662.1H222.3V668.1" class="br"/>
<text x="206.2" y="655.3" class="nsb">ns</text>
<path d="M126.5 760.1V781.2" class="ev"/>
<path d="M121.4 760.1H131.6" class="ec"/>
<path d="M116.0 781.2H137.0" class="em"/>
<path d="M158.3 749.5V774" class="ev"/>
<path d="M153.3 749.5H163.3" class="ec"/>
<path d="M147.9 774H168.7" class="em"/>
<path d="M180.2 783.4H200.8" class="em"/>
<path d="M222.1 713V784.7" class="ev"/>
<path d="M217.2 713H227.0" class="ec"/>
<path d="M217.2 784.7H227.0" class="ec"/>
<path d="M211.6 765.2H232.6" class="em"/>
<circle cx="126.6" cy="706.5" r="2.65" class="r"/>
<circle cx="126.6" cy="732.7" r="2.65" class="r"/>
<circle cx="126.6" cy="745" r="2.65" class="r"/>
<circle cx="126.5" cy="746.2" r="2.65" class="r"/>
<circle cx="125.2" cy="764.1" r="2.65" class="r"/>
<circle cx="127.8" cy="762.7" r="2.65" class="r"/>
<circle cx="126.5" cy="759.4" r="2.65" class="r"/>
<circle cx="128.8" cy="773" r="2.65" class="r"/>
<circle cx="125.8" cy="774" r="2.65" class="r"/>
<circle cx="127.5" cy="779.9" r="2.65" class="r"/>
<circle cx="125.2" cy="782.8" r="2.65" class="r"/>
<circle cx="119.3" cy="786.1" r="2.65" class="r"/>
<circle cx="118.3" cy="788.8" r="2.65" class="r"/>
<circle cx="122.5" cy="788.5" r="2.65" class="r"/>
<circle cx="126.8" cy="789.1" r="2.65" class="r"/>
<circle cx="130.5" cy="788.8" r="2.65" class="r"/>
<circle cx="134.7" cy="788.8" r="2.65" class="r"/>
<circle cx="155.8" cy="743.8" r="2.65" class="b"/>
<circle cx="161.3" cy="749.5" r="2.65" class="b"/>
<circle cx="155.8" cy="754.4" r="2.65" class="b"/>
<circle cx="155.8" cy="760.9" r="2.65" class="b"/>
<circle cx="155.8" cy="774" r="2.65" class="b"/>
<circle cx="155.8" cy="784.9" r="2.65" class="b"/>
<circle cx="166.1" cy="785.4" r="2.65" class="b"/>
<circle cx="150.4" cy="787.9" r="2.65" class="b"/>
<circle cx="161" cy="787.9" r="2.65" class="b"/>
<path d="M191.1 765.8L193.6 770.6H188.6Z" class="r t"/>
<path d="M189.4 769.5L191.9 774.3H186.9Z" class="r t"/>
<path d="M185.9 776.3L188.4 781.1H183.4Z" class="r t"/>
<path d="M190.2 774.8L192.7 779.6H187.7Z" class="r t"/>
<path d="M194.6 776.1L197.1 780.9H192.1Z" class="r t"/>
<path d="M191.1 780.1L193.6 784.9H188.6Z" class="r t"/>
<path d="M183.9 781.8L186.4 786.6H181.4Z" class="r t"/>
<path d="M187.6 783.3L190.1 788.1H185.1Z" class="r t"/>
<path d="M191.3 783.8L193.8 788.6H188.8Z" class="r t"/>
<path d="M197 783.0L199.5 787.8H194.5Z" class="r t"/>
<path d="M182.4 786.2L184.9 791.0H179.9Z" class="r t"/>
<path d="M189.4 787.5L191.9 792.3H186.9Z" class="r t"/>
<path d="M194.4 786.0L196.9 790.8H191.9Z" class="r t"/>
<path d="M198.1 785.8L200.6 790.6H195.6Z" class="r t"/>
<path d="M222.1 672.6L224.6 677.4H219.6Z" class="b t"/>
<path d="M222.1 681.8L224.6 686.6H219.6Z" class="b t"/>
<path d="M221.8 720.3L224.3 725.1H219.3Z" class="b t"/>
<path d="M214.5 759.5L217.0 764.3H212.0Z" class="b t"/>
<path d="M222.1 758.2L224.6 763.0H219.6Z" class="b t"/>
<path d="M222.1 767.3L224.6 772.1H219.6Z" class="b t"/>
<path d="M222.1 774.4L224.6 779.2H219.6Z" class="b t"/>
<path d="M222.1 781.4L224.6 786.2H219.6Z" class="b t"/>
<path d="M214.5 785.4L217.0 790.2H212.0Z" class="b t"/>
<path d="M229.9 784.6L232.4 789.4H227.4Z" class="b t"/>
<path d="M313.2 651.1V789.4M312.65 789.4H451.7" class="ax"/>
<path d="M307.4 789.4H313.2" class="ax"/>
<text x="306.2" y="793.3" class="tkb">0.0000</text>
<path d="M307.4 761.8H313.2" class="ax"/>
<text x="306.2" y="765.7" class="tkb">0.0001</text>
<path d="M307.4 734.3H313.2" class="ax"/>
<text x="306.2" y="738.2" class="tkb">0.0002</text>
<path d="M307.4 706.7H313.2" class="ax"/>
<text x="306.2" y="710.6" class="tkb">0.0003</text>
<path d="M307.4 679.2H313.2" class="ax"/>
<text x="306.2" y="683.1" class="tkb">0.0004</text>
<path d="M307.4 651.6H313.2" class="ax"/>
<text x="306.2" y="655.5" class="tkb">0.0005</text>
<path d="M334.4 789.4V794.9" class="ax"/>
<path d="M366.1 789.4V794.9" class="ax"/>
<path d="M397.9 789.4V794.9" class="ax"/>
<path d="M430.0 789.4V794.9" class="ax"/>
<text transform="translate(268.6,720.5) rotate(-90)" class="ylb">Relative expression</text>
<text x="355.4" y="632.6" class="tib">IL18</text>
<text transform="translate(337.4,804.7) rotate(-45)" class="xr">DBD T1</text>
<text transform="translate(369.1,804.7) rotate(-45)" class="xr">DCD T1</text>
<text transform="translate(400.9,804.7) rotate(-45)" class="xr">DBD T2</text>
<text transform="translate(433.0,804.7) rotate(-45)" class="xr">DCD T2</text>
<path d="M334.2 699.7V667.0H366.1V673.0" class="br"/>
<text x="350.1" y="660.2" class="nsb">ns</text>
<path d="M397.1 752.6V711.7H430.1V720.5" class="br"/>
<text x="413.6" y="704.9" class="nsb">ns</text>
<path d="M334.6 752V775.4" class="ev"/>
<path d="M329.6 752H339.6" class="ec"/>
<path d="M324.5 775.4H344.7" class="em"/>
<path d="M366.1 749.9V783.9" class="ev"/>
<path d="M361.5 749.9H370.7" class="ec"/>
<path d="M361.5 783.9H370.7" class="ec"/>
<path d="M355.9 768.2H376.3" class="em"/>
<path d="M387.6 778.7H408.4" class="em"/>
<path d="M430 757.5V785.2" class="ev"/>
<path d="M425.0 757.5H435.0" class="ec"/>
<path d="M425.0 785.2H435.0" class="ec"/>
<path d="M419.5 773.5H440.5" class="em"/>
<circle cx="335.8" cy="706.1" r="2.65" class="r"/>
<circle cx="332.6" cy="730.9" r="2.65" class="r"/>
<circle cx="335.8" cy="741.8" r="2.65" class="r"/>
<circle cx="332.6" cy="746.6" r="2.65" class="r"/>
<circle cx="332.6" cy="755.5" r="2.65" class="r"/>
<circle cx="335.8" cy="753.6" r="2.65" class="r"/>
<circle cx="335.5" cy="774" r="2.65" class="r"/>
<circle cx="332.6" cy="767.7" r="2.65" class="r"/>
<circle cx="329.3" cy="770.9" r="2.65" class="r"/>
<circle cx="339" cy="772" r="2.65" class="r"/>
<circle cx="329.3" cy="776.6" r="2.65" class="r"/>
<circle cx="333.4" cy="776.6" r="2.65" class="r"/>
<circle cx="342.3" cy="779.5" r="2.65" class="r"/>
<circle cx="326.1" cy="781.4" r="2.65" class="r"/>
<circle cx="329.3" cy="784.4" r="2.65" class="r"/>
<circle cx="335.8" cy="785.5" r="2.65" class="r"/>
<circle cx="326.1" cy="788.7" r="2.65" class="r"/>
<circle cx="332.6" cy="788.7" r="2.65" class="r"/>
<circle cx="339" cy="789.5" r="2.65" class="r"/>
<circle cx="342.3" cy="787.6" r="2.65" class="r"/>
<circle cx="366.1" cy="681" r="2.65" class="b"/>
<circle cx="373.9" cy="747.4" r="2.65" class="b"/>
<circle cx="366.1" cy="751.8" r="2.65" class="b"/>
<circle cx="366.1" cy="758.4" r="2.65" class="b"/>
<circle cx="373.9" cy="766.9" r="2.65" class="b"/>
<circle cx="366.1" cy="770.1" r="2.65" class="b"/>
<circle cx="373.9" cy="779" r="2.65" class="b"/>
<circle cx="366.1" cy="782.2" r="2.65" class="b"/>
<circle cx="358.5" cy="789.5" r="2.65" class="b"/>
<circle cx="373.9" cy="787.9" r="2.65" class="b"/>
<path d="M396.4 762.6L398.9 767.4H393.9Z" class="r t"/>
<path d="M399.5 763.3L402.0 768.1H397.0Z" class="r t"/>
<path d="M395.9 768.1L398.4 772.9H393.4Z" class="r t"/>
<path d="M399.5 767.8L402.0 772.6H397.0Z" class="r t"/>
<path d="M404.3 770.9L406.8 775.7H401.8Z" class="r t"/>
<path d="M400.7 772.6L403.2 777.4H398.2Z" class="r t"/>
<path d="M395 775.5L397.5 780.3H392.5Z" class="r t"/>
<path d="M391.6 776.0L394.1 780.8H389.1Z" class="r t"/>
<path d="M397.9 775.5L400.4 780.3H395.4Z" class="r t"/>
<path d="M401.2 776.9L403.7 781.7H398.7Z" class="r t"/>
<path d="M404.6 776.7L407.1 781.5H402.1Z" class="r t"/>
<path d="M391.6 780.3L394.1 785.1H389.1Z" class="r t"/>
<path d="M395.2 779.1L397.7 783.9H392.7Z" class="r t"/>
<path d="M398.1 780.8L400.6 785.6H395.6Z" class="r t"/>
<path d="M393.3 783.9L395.8 788.7H390.8Z" class="r t"/>
<path d="M399.5 784.1L402.0 788.9H397.0Z" class="r t"/>
<path d="M390.2 787.7L392.7 792.5H387.7Z" class="r t"/>
<path d="M396.4 786.8L398.9 791.6H393.9Z" class="r t"/>
<path d="M402.2 787.7L404.7 792.5H399.7Z" class="r t"/>
<path d="M406 786.3L408.5 791.1H403.5Z" class="r t"/>
<path d="M429.8 725.4L432.3 730.2H427.3Z" class="b t"/>
<path d="M437.8 751.0L440.3 755.8H435.3Z" class="b t"/>
<path d="M421.9 756.7L424.4 761.5H419.4Z" class="b t"/>
<path d="M429.8 756.7L432.3 761.5H427.3Z" class="b t"/>
<path d="M429.8 766.4L432.3 771.2H427.3Z" class="b t"/>
<path d="M429.8 777.2L432.3 782.0H427.3Z" class="b t"/>
<path d="M437.8 776.1L440.3 780.9H435.3Z" class="b t"/>
<path d="M429.8 783.5L432.3 788.3H427.3Z" class="b t"/>
<path d="M437.8 783.5L440.3 788.3H435.3Z" class="b t"/>
<path d="M421.9 785.8L424.4 790.6H419.4Z" class="b t"/>
</svg>
</body></html>
